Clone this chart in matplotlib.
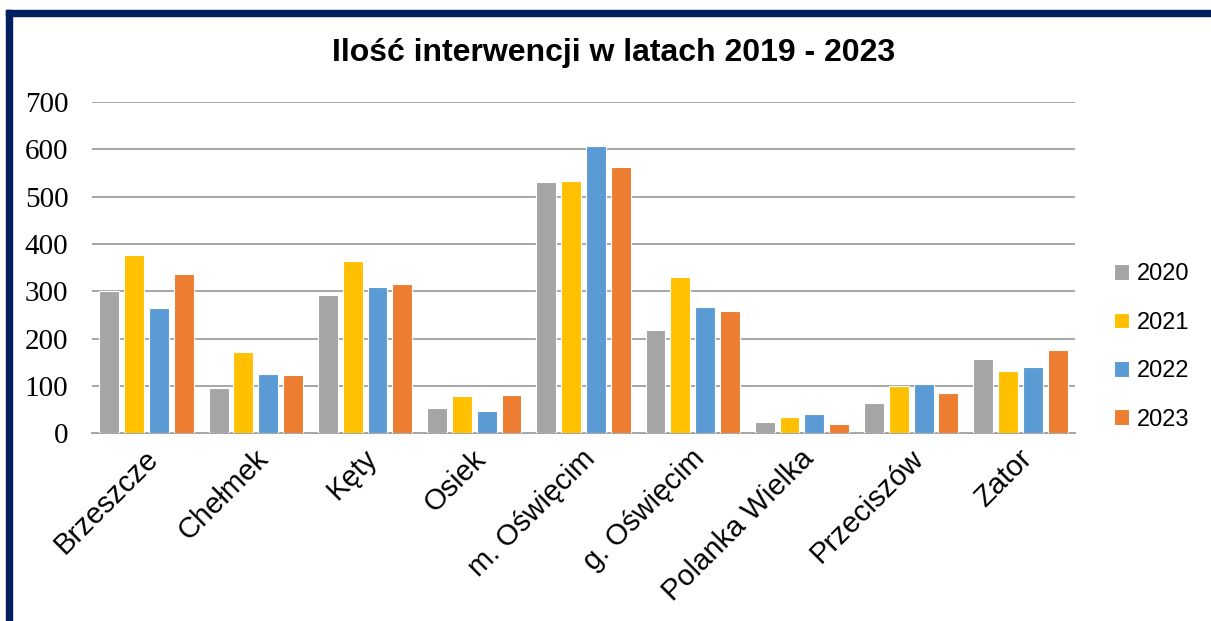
import matplotlib
matplotlib.use("Agg")
import matplotlib.pyplot as plt
import numpy as np
from matplotlib.patches import Rectangle

categories = ["Brzeszcze", "Chełmek", "Kęty", "Osiek", "m. Oświęcim",
              "g. Oświęcim", "Polanka Wielka", "Przeciszów", "Zator"]
years = ["2020", "2021", "2022", "2023"]
v2020 = [300, 95, 293, 53, 530, 218, 24, 64, 157]
v2021 = [376, 172, 365, 79, 534, 331, 35, 100, 131]
v2022 = [264, 125, 310, 47, 607, 266, 40, 105, 140]
v2023 = [336, 123, 316, 81, 562, 258, 19, 85, 177]
series = [v2020, v2021, v2022, v2023]
colors = ["#A5A5A5", "#FFC000", "#5B9BD5", "#ED7D31"]
yticks = [0, 100, 200, 300, 400, 500, 600, 700]

fig = plt.figure(figsize=(12.11, 6.21), dpi=100)
ax = fig.add_axes([92/1211, 1-433.3/621, (1075-92)/1211, (433.3-102)/621])

x = np.arange(len(categories))
step = 0.227
width = 0.182
for i, (vals, c, lab) in enumerate(zip(series, colors, years)):
    ax.bar(x + (i-1.5)*step, vals, width, color=c, label=lab,
           edgecolor="white", linewidth=0.8, zorder=3)

ax.set_xlim(-0.5, len(categories)-0.5)
ax.set_ylim(0, 700)
ax.set_yticks(yticks)
ax.set_yticklabels([str(t) for t in yticks], fontfamily="Liberation Serif", fontsize=21)
ax.yaxis.grid(True, color="#A6A6A6", linewidth=1.4, zorder=0)
ax.set_axisbelow(True)
ax.tick_params(axis="y", length=0, pad=17)
ax.tick_params(axis="x", length=0, pad=8)
for s in ["left", "right", "top"]:
    ax.spines[s].set_visible(False)
ax.spines["bottom"].set_color("#A6A6A6")
ax.spines["bottom"].set_linewidth(1.4)
ax.set_xticks(x - 0.02)
ax.set_xticklabels(categories, rotation=45, ha="right", va="top",
                   rotation_mode="anchor", fontfamily="Liberation Sans", fontsize=21)

fig.text(614/1211, 1-53/621, "Ilość interwencji w latach 2019 - 2023",
         ha="center", va="center", fontsize=23, fontweight="bold",
         fontfamily="Liberation Sans")

leg = fig.legend(loc="center left", bbox_to_anchor=(1114/1211, 1-347/621),
                 frameon=False, prop={"family": "Liberation Sans", "size": 17},
                 handlelength=0.65, handleheight=0.65, handletextpad=0.3,
                 labelspacing=1.12, borderpad=0, borderaxespad=0)

navy = "#002060"
fig.add_artist(Rectangle((6/1211, 0), 6/1211, 1-10/621, transform=fig.transFigure,
                         color=navy, zorder=10))
fig.add_artist(Rectangle((6/1211, 1-16/621), 1, 6/621, transform=fig.transFigure,
                         color=navy, zorder=10))

fig.savefig("out.png", dpi=100, facecolor="white")
